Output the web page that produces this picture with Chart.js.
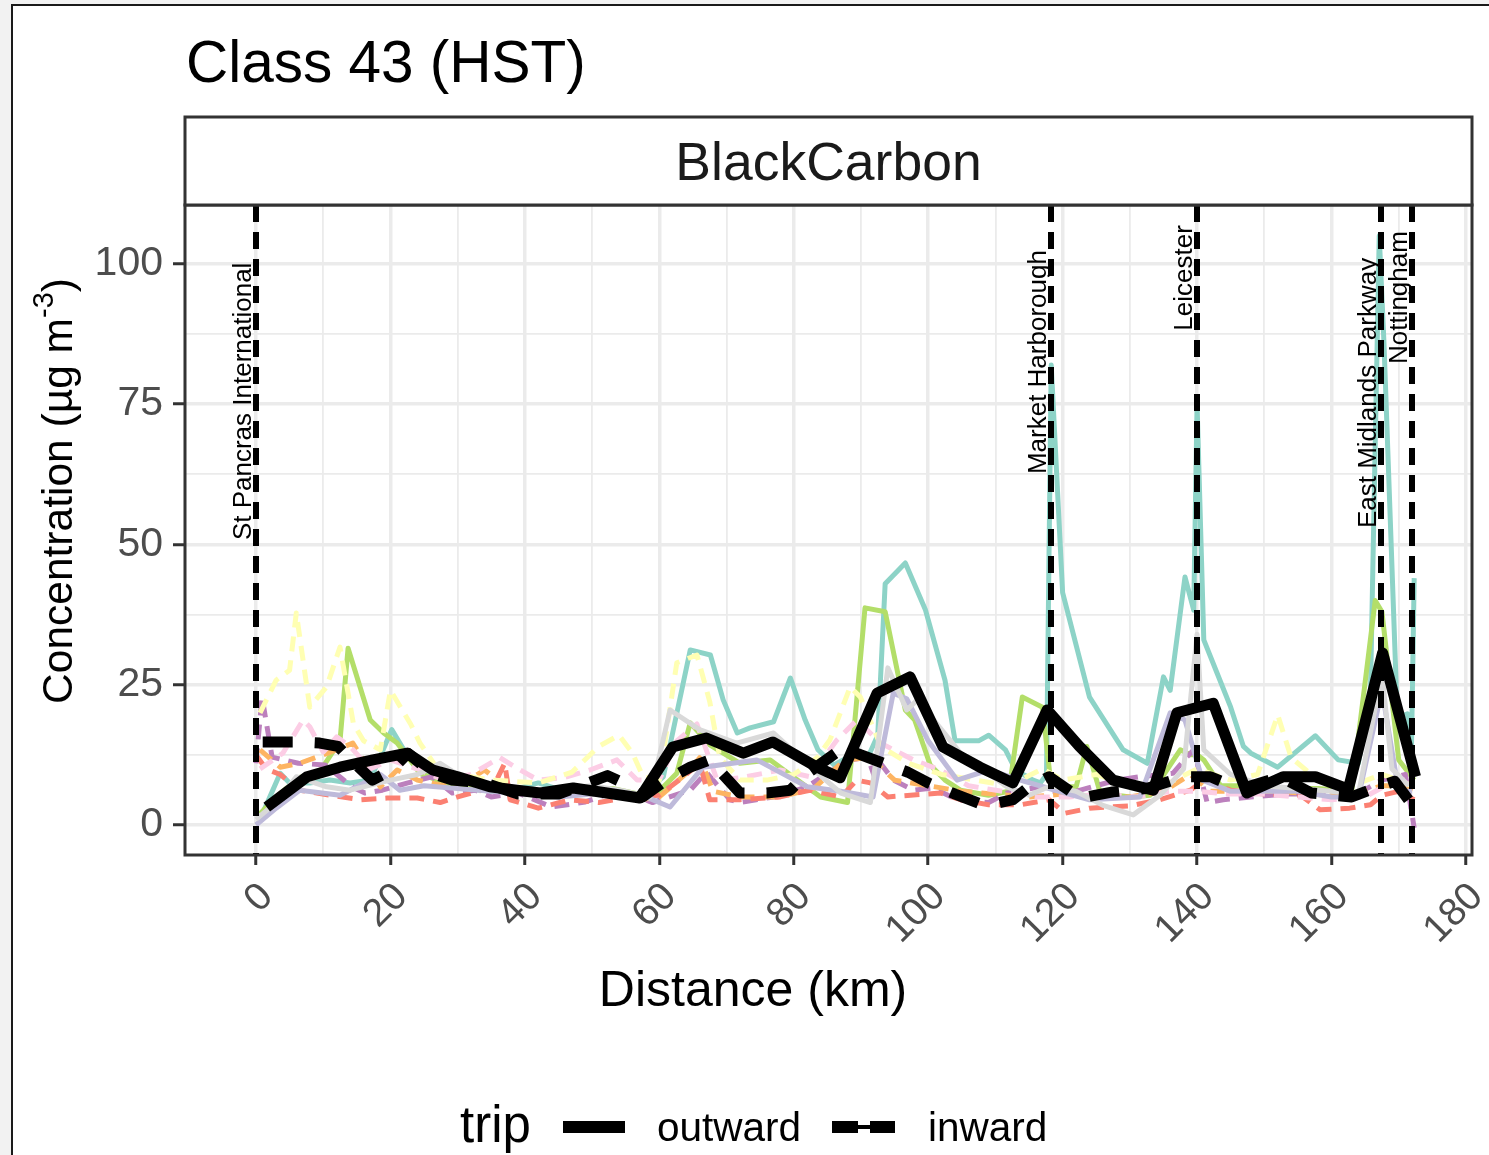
<!DOCTYPE html>
<html>
<head>
<meta charset="utf-8">
<script src="https://cdn.jsdelivr.net/npm/chart.js@4.4.1/dist/chart.umd.min.js"></script>
<style>
  html, body { margin: 0; padding: 0; background: #f2f2f2; }
  canvas { display: block; }
</style>
</head>
<body>
<canvas id="bcChart" width="1489" height="1155"></canvas>
<script>
// Black carbon along the Midland Main Line, Class 43 (HST)
const stationNames = ['St Pancras International', 'Market Harborough', 'Leicester', 'East Midlands Parkway', 'Nottingham'];
const stationKm = [0, 118.3, 140, 167.4, 172.0];
const stationLabelY = [75.5, 82.5, 97.5, 77, 94];   // centre of each rotated label, in µg m-3

const xTicks = [0, 20, 40, 60, 80, 100, 120, 140, 160, 180];
const yTicks = [0, 25, 50, 75, 100];
const tripLevels = ['outward', 'inward'];

// mean of all trips
const outwardMeanKm = [1.6, 7.6, 12.5, 17.4, 22.5, 26.3, 30, 34.8, 38.8, 42.3, 47.2, 52.2, 57.1, 62, 67, 72.5, 76.9, 83.5, 86.9, 92.4, 97.3, 102.2, 107.7, 112.6, 117.7, 122.5, 127.5, 133.5, 137, 142.4, 147.4, 152.8, 157.6, 162.5, 167.6, 172.5];
const outwardMeanBC = [3.2, 8.6, 10.3, 11.6, 12.8, 9.8, 8.6, 6.8, 6.2, 5.7, 6.6, 5.7, 4.8, 13.9, 15.5, 12.8, 14.8, 10.3, 8.4, 23.5, 26.4, 13.9, 10.3, 7.5, 20.5, 14, 8, 6.2, 20, 21.7, 5.7, 8.6, 8.6, 6.4, 30.7, 8.6];
const inwardMeanKm = [1, 5.8, 9.5, 12.2, 13.7, 17.3, 20.2, 22.6, 26.2, 29.2, 34, 39, 45, 52.3, 54.6, 57.5, 61, 64.6, 67.5, 72, 76, 79.5, 82, 87.3, 90, 94, 97, 100, 104, 108.5, 112.6, 115, 118, 122.6, 127.5, 132.5, 138, 142, 146.4, 152.4, 157, 163, 166, 169.4, 172];
const inwardMeanBC = [14.8, 14.8, 14.6, 14, 12.1, 8, 9.8, 12.8, 9.2, 8, 7.5, 5.5, 5.5, 8.8, 7.5, 5, 8, 10.3, 11.6, 5.7, 5.7, 6.2, 9.2, 13.7, 12.5, 10.7, 9.4, 7.5, 5.5, 3.4, 4.5, 6.8, 8.6, 4.8, 5.9, 6.5, 8.6, 8.6, 6.4, 8.6, 5.7, 5, 6.4, 7.8, 3.6];

// individual outward trips
const out1Km = [0.6, 3.6, 5, 8, 11, 14, 17, 20.2, 22, 24.4, 27.4, 31, 35, 39, 42, 46, 50, 54, 57, 60.6, 64.6, 67.6, 69.5, 71.6, 73.5, 77, 79.5, 81.7, 83.6, 86, 88.7, 91, 92.5, 93.6, 96.6, 99.6, 102.5, 104, 107.5, 109, 111.5, 113, 115.6, 116.7, 117.6, 118.3, 120, 124, 129, 132.6, 135, 136, 138.2, 139.5, 140, 141, 143, 145, 146.9, 148, 152, 157.6, 161, 164, 165.8, 167.1, 167.8, 169.8, 171.3, 171.9, 172.3];
const out1BC = [1, 9.2, 7.5, 7.5, 8, 7.5, 8, 17, 13.4, 9.2, 8, 6.5, 6, 6.5, 7.5, 6, 6.5, 6, 5, 8.6, 31.2, 30.3, 22.3, 16.4, 17.3, 18.4, 26.2, 18.7, 13.4, 10.7, 12.5, 12, 16, 43, 46.7, 38.3, 25.8, 15, 15, 16, 13.4, 9.8, 8, 7.5, 9, 82, 41.4, 22.8, 13.4, 11, 26.4, 24, 44.2, 38.3, 75, 33, 27, 21, 14, 12.8, 10.3, 15.9, 11.6, 11, 24, 105, 86, 19, 19.8, 14, 44];
const out2Km = [0.6, 3, 6.5, 9, 12.5, 13.7, 17, 19, 21, 24.4, 28, 33, 38, 43, 48, 53, 57, 59.7, 62.6, 64.6, 67.5, 72, 76.5, 80, 84, 88, 90.6, 93.6, 96.6, 98, 100.3, 102.5, 104.8, 109, 112, 114, 117, 118.3, 122, 123.6, 125.6, 130, 133, 137.5, 139, 140, 141, 143.5, 148, 153, 158, 163, 166.5, 167.5, 170, 172.3];
const out2BC = [2, 5, 8.5, 8.6, 15, 31.5, 18.7, 16.4, 14.6, 9.2, 7.5, 6.5, 6, 5.5, 6, 6.5, 5.5, 5.7, 9.2, 18.2, 14.3, 11, 11.6, 8.5, 5, 4, 38.7, 38, 20.5, 18.7, 10.7, 8, 6.2, 5.3, 6, 22.8, 21, 6.8, 6.8, 14, 5.7, 5, 5.3, 13.4, 12.5, 12.5, 11.6, 7, 7, 6.5, 6.5, 6, 40, 38, 11.6, 8];
const out3Km = [0, 3, 6, 10.5, 14, 20, 24, 27.4, 30, 35, 40, 45, 50, 55, 58.6, 61.6, 66, 71.5, 77, 83, 87, 91.4, 94, 96.8, 98.4, 104.8, 111.7, 115, 118.3, 122, 126, 130.5, 134.5, 138, 140, 141, 145, 150, 155, 160, 164, 167.5, 169, 171.5];
const out3BC = [1, 4, 8.6, 6.8, 6.2, 8, 9, 11, 9, 7, 6, 6.5, 7, 6, 5, 20.5, 17, 14.6, 16.4, 9.8, 5.7, 4, 28, 20.5, 22.3, 12.8, 6.8, 5.3, 7, 6, 3.5, 1.8, 5.3, 10, 34, 13.4, 9, 7, 6.5, 6, 5.5, 27, 10, 7];
const out4Km = [0, 3, 6.5, 12.5, 18.5, 21.4, 25, 30, 35, 40, 45, 50, 55, 58, 61.6, 66.5, 74.5, 82, 87, 91.8, 94.8, 96.8, 100, 104.3, 109, 113.7, 118, 124, 131.5, 136, 138.2, 140.8, 145, 150, 155, 160, 164, 167.5, 170, 172];
const out4BC = [0, 3, 6.2, 5.3, 9, 6.2, 7, 6.5, 6, 5.5, 5, 5.5, 5, 5, 3.2, 10.3, 11.6, 6.8, 6, 5, 23.5, 22.5, 15, 8, 9.8, 8, 6.5, 4.5, 5, 20, 18.7, 8, 6, 6, 6, 5, 5, 24, 6, 6];

// individual inward trips
const in1Km = [0.6, 3, 5, 6, 8, 10.5, 12.5, 14.5, 16, 18.5, 20, 23, 24.4, 27, 30, 35, 42, 47, 51, 54, 56, 57.6, 60, 62.6, 65.6, 67.5, 69, 72, 76, 80, 83.5, 85.4, 88.4, 89.9, 93, 97, 102, 107, 112, 117, 120, 125, 130, 135, 140, 145, 149, 152, 154, 158, 163, 167.5, 170, 172];
const in1BC = [20, 25.8, 27.6, 37.8, 21, 24.6, 31.7, 18, 15, 13.4, 24, 18, 14.6, 10, 9, 8, 7.5, 9.4, 14, 16, 12.8, 8.6, 8, 28.9, 30.3, 22, 12, 8, 8, 9, 12, 15.2, 24.6, 22.8, 14, 11, 9, 8, 7, 10, 8, 9, 7, 7, 10, 8, 9, 19.6, 12, 8, 7, 9, 8, 7];
const in2Km = [0.6, 4, 7, 8, 10, 12, 14, 17, 20, 24.4, 28, 32, 36.3, 39, 42, 46, 49.7, 53.7, 56.7, 60, 62.6, 65.6, 68.6, 72, 78, 82.4, 86.4, 89.4, 92.9, 97.8, 101.8, 106, 111, 116, 121, 126, 131, 136, 140, 145, 150, 155, 160, 165, 168, 170, 172];
const in2BC = [10, 12.8, 18.7, 17.5, 13, 15.7, 14, 10, 11.6, 9.8, 8, 9, 12, 10, 8, 8.5, 9.8, 11.6, 8, 8, 15, 18, 8, 8.4, 9.8, 8.6, 15.1, 18.7, 14.6, 11.6, 9.8, 7, 6, 5, 5, 5.5, 5, 6, 6, 5.5, 5.5, 5, 4.5, 5, 7, 8, 8];
const in3Km = [0, 1.5, 3.6, 6.5, 11, 15.5, 19.5, 24, 27.4, 30, 35.3, 37, 37.8, 42, 46.7, 51, 55.6, 60, 64, 66, 67.5, 72, 78, 82.4, 87, 89.4, 91.4, 94, 101.8, 104.8, 109, 113.7, 118, 120.4, 124, 130, 134.5, 139, 141, 145, 150, 155.4, 158.3, 162.7, 165.8, 167.5, 170, 172.3];
const in3BC = [12.5, 10, 9, 6.2, 5.3, 4.5, 4.8, 4.8, 4, 5, 6.8, 11, 4.5, 3, 4.5, 4, 5, 5.3, 9, 11, 4.5, 4.5, 5, 6.2, 5, 8, 7.5, 5, 5.7, 4.5, 3.6, 3.6, 4.5, 2.1, 3, 3.4, 4.5, 6.2, 8, 6.2, 5.5, 5.3, 2.7, 3, 3.6, 5.3, 6, 4.5];
const in4Km = [0.6, 3.6, 6.5, 10.7, 14.4, 18.5, 21, 24, 28, 31, 34, 37, 40, 45, 50, 54, 57, 60, 64.6, 66, 68, 72, 78, 83, 87.6, 91.4, 95, 100, 105, 110, 115, 120, 125, 130, 135, 139, 142, 147, 152, 157, 162, 167.5, 170, 172];
const in4BC = [13.4, 10.3, 11, 12.8, 14.6, 6.8, 9.8, 8, 7, 7.5, 9.8, 7, 6, 5.5, 5.5, 6, 4.5, 5, 9.8, 12, 6, 5, 5, 6.5, 11.6, 12, 8, 7, 6, 5.5, 5, 5.5, 5, 5, 6, 9, 6, 6, 6, 5.5, 5, 7, 7, 6];
const in5Km = [0, 0.9, 2.4, 6.3, 10.3, 14.3, 16.2, 18.8, 22.6, 26.2, 29.2, 32.6, 35, 39, 44, 49, 53.9, 59, 64.6, 67, 70.5, 72, 77, 82, 85, 88.4, 91, 92, 92.9, 94.8, 97.8, 100.7, 104.3, 109, 111.7, 116.7, 118.3, 122, 128, 131.5, 136.4, 138.5, 139.5, 141.5, 143.9, 148, 153, 158, 163, 167.5, 171, 172.3];
const in5BC = [11, 22.8, 12.1, 11, 10.7, 6.8, 5.7, 6.2, 7.5, 8.6, 5.7, 6.2, 5, 5.7, 3.2, 4.1, 6.2, 4, 6.2, 9.4, 4.5, 4, 5, 6.8, 9.2, 11.6, 12.1, 8.6, 11, 8, 6.2, 6.6, 4.5, 4, 5.7, 6.8, 6, 6, 8, 8.6, 9.2, 12.1, 13.4, 4, 4.5, 5, 5.5, 5.5, 5, 8, 9, -0.5];

const FONT = '"Liberation Sans", Arial, sans-serif';

function series(km, bc) {
    return km.map((d, i) => ({ x: d, y: bc[i] }));
}

function tripLine(km, bc, colour, dashed) {
    return {
        data: series(km, bc),
        borderColor: colour,
        borderWidth: 5,
        borderDash: dashed ? [15, 9] : [],
        order: 1
    };
}

const decorations = {
    id: 'decorations',
    beforeDraw(chart) {
        const c = chart.ctx;
        c.save();
        c.fillStyle = '#f2f2f2';
        c.fillRect(0, 0, chart.width, chart.height);
        c.fillStyle = '#ffffff';
        c.fillRect(12, 5, chart.width - 12, chart.height - 5);
        c.strokeStyle = '#1a1a1a';
        c.lineWidth = 2;
        c.beginPath();
        c.moveTo(12, chart.height);
        c.lineTo(12, 5);
        c.lineTo(chart.width, 5);
        c.stroke();
        c.restore();
    },
    afterDatasetsDraw(chart) {
        const c = chart.ctx;
        const a = chart.chartArea;
        const x = chart.scales.x, y = chart.scales.y;
        c.save();
        c.beginPath();
        c.rect(a.left, a.top, a.right - a.left, a.bottom - a.top);
        c.clip();
        // station lines
        c.strokeStyle = '#000';
        c.lineWidth = 6;
        c.setLineDash([17, 10]);
        stationKm.forEach(km => {
            const px = Math.round(x.getPixelForValue(km));
            c.beginPath();
            c.moveTo(px, a.top);
            c.lineTo(px, a.bottom);
            c.stroke();
        });
        c.setLineDash([]);
        // station names
        c.fillStyle = '#000';
        c.font = '26px ' + FONT;
        c.textAlign = 'center';
        c.textBaseline = 'alphabetic';
        stationNames.forEach((name, i) => {
            c.save();
            c.translate(x.getPixelForValue(stationKm[i]) - 5, y.getPixelForValue(stationLabelY[i]));
            c.rotate(-Math.PI / 2);
            c.fillText(name, 0, 0);
            c.restore();
        });
        c.restore();
    },
    afterDraw(chart) {
        const c = chart.ctx;
        const a = chart.chartArea;
        c.save();
        // panel border
        c.strokeStyle = '#333333';
        c.lineWidth = 3;
        c.strokeRect(a.left, a.top, a.right - a.left, a.bottom - a.top);
        // facet strip
        c.fillStyle = '#ffffff';
        c.fillRect(a.left, 117, a.right - a.left, a.top - 117);
        c.strokeRect(a.left, 117, a.right - a.left, a.top - 117);
        c.fillStyle = '#1a1a1a';
        c.font = '53.5px ' + FONT;
        c.textAlign = 'center';
        c.textBaseline = 'alphabetic';
        c.fillText('BlackCarbon', (a.left + a.right) / 2, 180);
        // title
        c.fillStyle = '#000';
        c.textAlign = 'left';
        c.font = '58.5px ' + FONT;
        c.fillText('Class 43 (HST)', 186, 82);
        // x axis title
        c.textAlign = 'center';
        c.font = '50px ' + FONT;
        c.fillText('Distance (km)', 753, 1006);
        // y axis title with superscript
        c.save();
        c.translate(72, 491);
        c.rotate(-Math.PI / 2);
        c.textAlign = 'left';
        const main = 'Concentration (µg m', sup = '-3', close = ')';
        c.font = '42.5px ' + FONT;
        const w1 = c.measureText(main).width, w3 = c.measureText(close).width;
        c.font = '29px ' + FONT;
        const w2 = c.measureText(sup).width;
        let sx = -(w1 + w2 + w3) / 2;
        c.font = '42.5px ' + FONT;
        c.fillText(main, sx, 0);
        c.font = '29px ' + FONT;
        c.fillText(sup, sx + w1, -19);
        c.font = '42.5px ' + FONT;
        c.fillText(close, sx + w1 + w2, 0);
        c.restore();
        // legend
        c.textAlign = 'left';
        c.font = '51px ' + FONT;
        c.fillText('trip', 460, 1142);
        c.strokeStyle = '#000';
        c.lineWidth = 12;
        c.beginPath();
        c.moveTo(563, 1127);
        c.lineTo(625, 1127);
        c.stroke();
        c.setLineDash([26, 12]);
        c.beginPath();
        c.moveTo(832, 1127);
        c.lineTo(895, 1127);
        c.stroke();
        c.setLineDash([]);
        c.lineWidth = 4;
        c.beginPath();
        c.moveTo(856, 1127);
        c.lineTo(872, 1127);
        c.stroke();
        c.font = '40.5px ' + FONT;
        c.fillText(tripLevels[0], 657, 1141);
        c.fillText(tripLevels[1], 928, 1141);
        c.restore();
    }
};

const ctx = document.getElementById('bcChart').getContext('2d');
const bcChart = new Chart(ctx, {
    type: 'line',
    data: {
        datasets: [
            { data: series(outwardMeanKm, outwardMeanBC), borderColor: '#000', borderWidth: 11, order: 0 },
            { data: series(inwardMeanKm, inwardMeanBC), borderColor: '#000', borderWidth: 11, borderDash: [30, 22], order: 0 },
            tripLine(out3Km, out3BC, '#D9D9D9', false),
            tripLine(out4Km, out4BC, '#BEBADA', false),
            tripLine(in1Km, in1BC, '#FFFFB3', true),
            tripLine(in2Km, in2BC, '#FCCDE5', true),
            tripLine(in3Km, in3BC, '#FB8072', true),
            tripLine(in4Km, in4BC, '#FDB462', true),
            tripLine(in5Km, in5BC, '#BC80BD', true),
            tripLine(out2Km, out2BC, '#B3DE69', false),
            tripLine(out1Km, out1BC, '#8DD3C7', false)
        ]
    },
    options: {
        responsive: false,
        animation: false,
        layout: { padding: { top: 205, right: 17, bottom: 0, left: 0 } },
        elements: {
            point: { radius: 0 },
            line: { tension: 0, borderJoinStyle: 'round', borderCapStyle: 'butt', fill: false }
        },
        plugins: {
            legend: { display: false },
            tooltip: { enabled: false }
        },
        scales: {
            x: {
                type: 'linear',
                min: -10.56,
                max: 180.9,
                afterBuildTicks: s => {
                    s.ticks = [];
                    for (let v = 0; v <= 180; v += 10) s.ticks.push({ value: v });
                },
                afterFit: s => {
                    s.height = 300;
                    s.paddingLeft = 0;
                    s.paddingRight = 0;
                },
                ticks: {
                    autoSkip: false,
                    minRotation: 45,
                    maxRotation: 45,
                    color: '#4d4d4d',
                    padding: 9,
                    labelOffset: 11,
                    font: { family: FONT, size: 39 },
                    callback: v => xTicks.includes(v) ? String(v) : ''
                },
                grid: {
                    color: '#ebebeb',
                    lineWidth: c => (c.tick && xTicks.includes(c.tick.value)) ? 3.5 : 1.8,
                    tickLength: 10,
                    tickWidth: 3,
                    tickColor: c => (c.tick && xTicks.includes(c.tick.value)) ? '#333333' : 'rgba(0,0,0,0)'
                },
                border: { display: false }
            },
            y: {
                min: -5.35,
                max: 110.5,
                afterBuildTicks: s => {
                    s.ticks = [];
                    for (let v = 0; v <= 100; v += 12.5) s.ticks.push({ value: v });
                },
                afterFit: s => {
                    s.width = 185;
                    s.paddingTop = 0;
                    s.paddingBottom = 0;
                },
                ticks: {
                    color: '#4d4d4d',
                    padding: 10,
                    font: { family: FONT, size: 41 },
                    callback: v => yTicks.includes(v) ? String(v) : ''
                },
                grid: {
                    color: '#ebebeb',
                    lineWidth: c => (c.tick && yTicks.includes(c.tick.value)) ? 3.5 : 1.8,
                    tickLength: 12,
                    tickWidth: 3,
                    tickColor: c => (c.tick && yTicks.includes(c.tick.value)) ? '#333333' : 'rgba(0,0,0,0)'
                },
                border: { display: false }
            }
        }
    },
    plugins: [decorations]
});
</script>
</body>
</html>
